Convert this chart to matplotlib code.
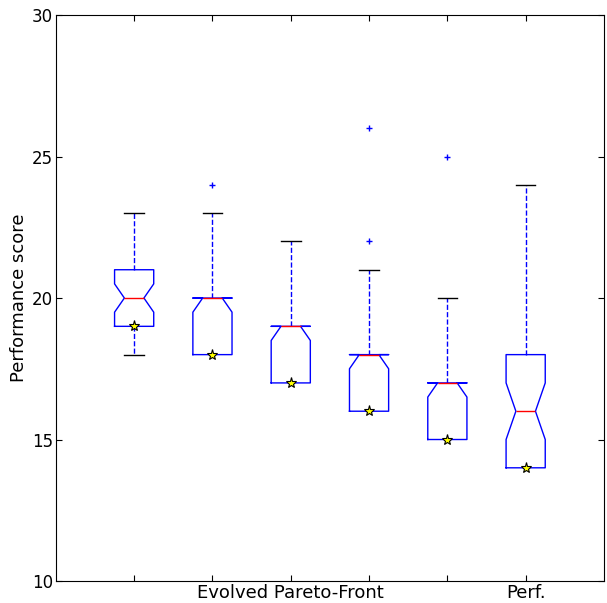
import matplotlib
matplotlib.use("Agg")
import matplotlib.pyplot as plt

# statistiques
labels = ["", "", "Evolved Pareto-Front", "", "", "Perf."]
q1 = [19, 18, 17, 16, 15, 14]
med = [20, 20, 19, 18, 17, 16]
q3 = [21, 20, 19, 18, 17, 18]
whislo = [18, 18, 17, 16, 15, 14]
whishi = [23, 23, 22, 21, 20, 24]
fliers = [[], [24], [], [22, 26], [25], []]
notch_lo = [19.5, 19.5, 18.5, 17.5, 16.5, 15]
notch_hi = [20.5, 20, 19, 18, 17, 17]
best = [19, 18, 17, 16, 15, 14]

stats = []
for i in range(len(med)):
    stats.append(dict(med=med[i], q1=q1[i], q3=q3[i], whislo=whislo[i],
                      whishi=whishi[i], fliers=fliers[i],
                      cilo=notch_lo[i], cihi=notch_hi[i]))

fig = plt.figure(figsize=(6.07, 6.03), dpi=100)
ax = fig.add_axes([0.092, 0.0365, 0.903, 0.9385])

pos = list(range(1, len(med) + 1))
bp = ax.bxp(stats, positions=pos, widths=0.5, shownotches=True,
            boxprops=dict(color='b', linewidth=1),
            medianprops=dict(color='r', linewidth=1),
            whiskerprops=dict(color='b', linestyle='--', linewidth=1),
            capprops=dict(color='k', linewidth=1),
            flierprops=dict(marker='+', color='b', markeredgecolor='b',
                            markersize=5, linestyle='none'))

# pas de moustache -> pas de cap
for i in range(len(med)):
    if whislo[i] == q1[i]:
        bp['caps'][2 * i].set_visible(False)
    if whishi[i] == q3[i]:
        bp['caps'][2 * i + 1].set_visible(False)

ax.plot(pos, best, linestyle='none', marker='*', markersize=8,
        markerfacecolor='yellow', markeredgecolor='k', markeredgewidth=0.8)

ax.set_xlim(0, 7)
ax.set_ylim(10, 30)
ax.set_yticks([10, 15, 20, 25, 30])
ax.set_xticks(pos)
ax.set_xticklabels(labels, fontsize=13)
ax.tick_params(axis='y', labelsize=12)
ax.tick_params(direction='in', top=True, right=True, length=4, pad=2)
ax.set_ylabel("Performance score", fontsize=13, labelpad=3)

fig.savefig("out.png", dpi=100)
